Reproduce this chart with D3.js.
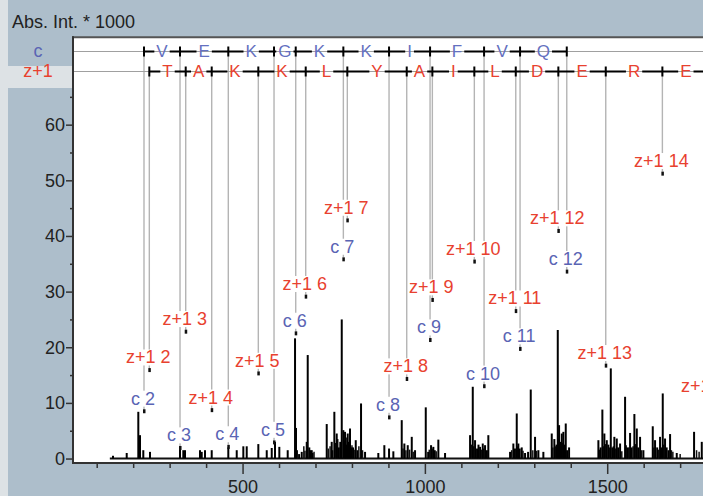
<!DOCTYPE html>
<html>
<head>
<meta charset="utf-8">
<script src="https://cdn.jsdelivr.net/npm/d3@7"></script>
<style>
body { margin: 0; background: #adbecb; overflow: hidden; }
svg { display: block; font-family: "Liberation Sans", Arial, sans-serif; }
</style>
</head>
<body>
<div id="js_chart"></div>
<script>
//////////////////////////////////////////////////////////////////////////////
// Data
//

var yTicks = [0, 10, 20, 30, 40, 50, 60];
var yMinorTicks = [5, 15, 25, 35, 45, 55, 65];
var xTicks = [500, 1000, 1500];
var xMinorTicks = [100, 200, 300, 400, 600, 700, 800, 900, 1100, 1200, 1300, 1400, 1600, 1700, 1800];

// c ions: fragment boundaries (m/z), label level (intensity), residues between them
var cFirst = 2;
var cMz    = [229.7, 328.5, 460.9, 586.3, 645.8, 776.4, 901.7, 1014.2, 1162.3, 1261.0, 1389.1];
var cLevel = [8.5, 1.9, 2.1, 2.9, 22.5, 35.8, 7.4, 21.3, 13.0, 19.7, 33.6];
var cSeq   = ["V", "E", "K", "G", "K", "K", "I", "F", "V", "Q"];

// z+1 ions
var zFirst = 2;
var zMz    = [244.3, 344.1, 415.4, 543.2, 673.2, 787.3, 950.2, 1020.5, 1135.6, 1249.2, 1366.0, 1496.0, 1651.3, 1780.0];
var zLevel = [15.9, 22.8, 8.7, 15.3, 29.1, 42.8, 14.3, 28.5, 35.4, 26.5, 40.9, 16.7, 51.2, 10.7];
var zSeq   = ["T", "A", "K", "K", "L", "Y", "A", "I", "L", "D", "E", "R", "E"];

// spectrum peaks [m/z, abs. int. * 1000]
var peaks = [
  [144.7, 0.5], [182.3, 1.0], [214.1, 8.4], [218.8, 4.2], [227.8, 1.5], [246.2, 1.2],
  [328.5, 2.1], [337.5, 1.5], [342.2, 1.5], [383.3, 1.5], [388, 1.2], [397, 1.5],
  [415.4, 1.5], [460.9, 2.0], [484, 1.5], [502.1, 2.2], [511.4, 2.2], [543.2, 2.6],
  [566.3, 1.5], [580, 1.9], [589, 3.0], [600.8, 2.1], [623.8, 1.5], [643.9, 21.6],
  [646.6, 5.5], [655, 0.8], [662.3, 1.2], [676, 3.0], [678.7, 18.6], [683, 2.0],
  [686, 1.5], [689.7, 1.5], [692, 1.0], [730.8, 6.2], [744.5, 3.0], [751.7, 8.4],
  [758.2, 4.5], [764, 2.0], [768, 3.0], [772, 25.0], [776.4, 5.1], [781, 4.8],
  [784, 2.5], [788.4, 4.5], [791, 3.0], [794.7, 5.4], [798, 2.0], [803, 2.0],
  [810.4, 3.3], [815, 1.5], [824.9, 9.9], [835.9, 1.2], [872.3, 1.0], [888.8, 2.4],
  [901.7, 1.8], [913.5, 1.3], [936.5, 6.9], [943.7, 2.7], [953, 2.4], [964, 3.9],
  [973, 1.5], [1002.4, 9.2], [1009, 1.2], [1016.9, 2.4], [1023.2, 2.1], [1027, 1.5],
  [1036.9, 3.4], [1055.3, 1.0], [1123.9, 4.2], [1131.3, 12.9], [1137.6, 3.3], [1143, 1.8],
  [1147, 2.5], [1151.3, 2.1], [1158.7, 2.7], [1165, 2.4], [1170, 1.5], [1174, 4.2],
  [1233.6, 1.2], [1242.6, 2.7], [1247, 1.8], [1251.9, 8.1], [1256.3, 2.7], [1260, 1.8],
  [1265.6, 2.0], [1274.7, 1.0], [1283, 1.2], [1290.3, 12.4], [1302.1, 3.9], [1311.2, 1.5],
  [1324.9, 1.2], [1347.9, 4.5], [1355, 3.5], [1361, 2.5], [1364.4, 23.1], [1368, 6.0],
  [1371, 3.0], [1375.4, 4.5], [1379.8, 4.8], [1383, 2.5], [1386.3, 6.3], [1390, 1.5],
  [1395.4, 2.0], [1475.8, 3.3], [1482, 2.0], [1486.7, 8.8], [1492.2, 4.5], [1498.8, 3.3],
  [1503, 2.5], [1509.8, 16.2], [1514, 2.0], [1519.6, 3.9], [1526.2, 3.6], [1530, 2.0],
  [1535.3, 2.7], [1549, 11.1], [1555, 2.0], [1562.7, 4.6], [1567, 2.0], [1574.5, 8.0],
  [1581.1, 5.4], [1585, 2.0], [1590.1, 3.9], [1599.2, 1.5], [1624.9, 5.8], [1631.2, 3.3],
  [1637, 2.0], [1644.9, 3.9], [1648, 2.0], [1652.3, 11.7], [1658.6, 3.6], [1663, 2.0],
  [1668, 1.5], [1672.4, 4.4], [1690.7, 1.0], [1738.2, 4.8], [1759.3, 3.0]
];

// low "grass" inside the peak clusters
var smallPeaks = [
  [650, 1.5], [668, 2.2], [671, 1.4], [696, 1.2], [735, 1.8], [740, 2.2], [747, 1.5],
  [755, 2.8], [761, 3.5], [770, 2.5], [779, 3.2], [786, 3.8], [800, 2.4], [806, 1.6],
  [819, 2.2], [829, 1.5], [940, 1.8], [948, 1.5], [958, 1.6], [968, 1.2], [1012, 1.6],
  [1020, 1.8], [1031, 1.3], [1128, 2.5], [1134, 2.2], [1155, 1.6], [1161, 1.8], [1238, 1.5],
  [1254, 2.2], [1269, 1.4], [1296, 1.5], [1306, 1.4], [1351, 2.0], [1358, 2.2], [1366, 3.5],
  [1377, 2.8], [1479, 1.6], [1489, 2.2], [1495, 2.6], [1506, 2.0], [1517, 2.2], [1522, 1.8],
  [1540, 1.3], [1552, 2.4], [1559, 2.0], [1571, 2.2], [1578, 2.6], [1594, 1.5], [1628, 2.0],
  [1641, 1.6], [1655, 2.5], [1676, 1.5], [1680, 1.2], [1700, 0.8], [1745, 1.5], [1752, 1.2]
];
var spectrumRange = [136, 1919];

//////////////////////////////////////////////////////////////////////////////
// Drawing
//

var W = 703, H = 496;
var plotLeft = 73, plotTop = 37.3, plotBottom = 463;
var cRowY = 51.5, zRowY = 71.5;
var blue = "#5a64b4", red = "#e8412f";

var x = d3.scaleLinear().domain([35, 1919]).range([plotLeft, 760]);
var y = d3.scaleLinear().domain([-0.8, 75.7]).range([plotBottom, plotTop]);

var svg = d3.select("#js_chart").append("svg")
  .attr("width", W)
  .attr("height", H);

// backgrounds
svg.append("rect").attr("x", 0).attr("y", 0).attr("width", W).attr("height", H).attr("fill", "#adbecb");
svg.append("rect").attr("x", 0).attr("y", 0).attr("width", 8).attr("height", H).attr("fill", "#dde2e5");
svg.append("rect").attr("x", 0).attr("y", 66).attr("width", plotLeft).attr("height", 22).attr("fill", "#dde2e5");
svg.append("rect").attr("x", plotLeft).attr("y", plotTop).attr("width", W - plotLeft)
  .attr("height", plotBottom - plotTop).attr("fill", "#fff");
svg.append("line").attr("x1", plotLeft - 1).attr("x2", W).attr("y1", plotTop).attr("y2", plotTop)
  .attr("stroke", "#555").attr("stroke-width", 2);

// gray guide lines from the sequence rows down to the labelled peaks
function guides(mzs, levels, rowY) {
  svg.append("g").selectAll("line").data(mzs).enter().append("line")
    .attr("x1", function (d) { return x(d); })
    .attr("x2", function (d) { return x(d); })
    .attr("y1", rowY)
    .attr("y2", function (d, i) { return y(levels[i]) - 2; })
    .attr("stroke", "#b4b4b4")
    .attr("stroke-width", 1.4);
}
guides(cMz, cLevel, cRowY);
guides(zMz, zLevel, zRowY);

// row base lines
[cRowY, zRowY].forEach(function (ry) {
  svg.append("line").attr("x1", plotLeft).attr("x2", W).attr("y1", ry).attr("y2", ry)
    .attr("stroke", "#a0a0a0").attr("stroke-width", 1);
});

// spectrum
svg.append("line")
  .attr("x1", x(spectrumRange[0])).attr("x2", x(spectrumRange[1]))
  .attr("y1", y(0)).attr("y2", y(0))
  .attr("stroke", "#111").attr("stroke-width", 2);

svg.append("g").selectAll("line").data(smallPeaks).enter().append("line")
  .attr("x1", function (d) { return x(d[0]); })
  .attr("x2", function (d) { return x(d[0]); })
  .attr("y1", y(0))
  .attr("y2", function (d) { return y(d[1]); })
  .attr("stroke", "#111")
  .attr("stroke-width", 1.5);

svg.append("g").selectAll("line").data(peaks).enter().append("line")
  .attr("x1", function (d) { return x(d[0]); })
  .attr("x2", function (d) { return x(d[0]); })
  .attr("y1", y(0))
  .attr("y2", function (d) { return y(d[1]); })
  .attr("stroke", "#000")
  .attr("stroke-width", 2);

// peak markers and labels
function labels(mzs, levels, prefix, first, color) {
  var g = svg.append("g");
  mzs.forEach(function (m, i) {
    var px = x(m), py = y(levels[i]);
    g.append("rect").attr("x", px - 1).attr("y", py - 2).attr("width", 2.5).attr("height", 4).attr("fill", "#111");
    var t = g.append("text")
      .attr("x", px - 1)
      .attr("y", py - 6.6)
      .attr("text-anchor", "middle")
      .attr("font-size", 18)
      .attr("fill", color)
      .text(prefix + " " + (first + i));
    var b = t.node().getBBox();
    g.insert("rect", function () { return t.node(); })
      .attr("x", b.x - 1).attr("y", b.y + 2)
      .attr("width", b.width + 2).attr("height", b.height - 4)
      .attr("fill", "#fff");
  });
}
labels(cMz, cLevel, "c", cFirst, blue);
labels(zMz, zLevel, "z+1", zFirst, red);

// sequence rows
function seqRow(mzs, seq, rowY, color) {
  var g = svg.append("g");
  seq.forEach(function (aa, i) {
    var xa = x(mzs[i]), xb = x(mzs[i + 1]), mid = (xa + xb) / 2;
    var t = g.append("text")
      .attr("x", mid)
      .attr("y", rowY + 5.2)
      .attr("text-anchor", "middle")
      .attr("font-size", 17)
      .attr("fill", color)
      .text(aa);
    var w = t.node().getComputedTextLength();
    var l = mid - w / 2 - 2, r = mid + w / 2 + 2;
    if (l > xa) g.append("line").attr("x1", xa).attr("x2", l).attr("y1", rowY).attr("y2", rowY)
      .attr("stroke", "#000").attr("stroke-width", 2);
    if (xb > r) g.append("line").attr("x1", r).attr("x2", xb).attr("y1", rowY).attr("y2", rowY)
      .attr("stroke", "#000").attr("stroke-width", 2);
  });
  g.selectAll(".tick").data(mzs).enter().append("line")
    .attr("x1", function (d) { return x(d); })
    .attr("x2", function (d) { return x(d); })
    .attr("y1", rowY - 5)
    .attr("y2", rowY + 5)
    .attr("stroke", "#000")
    .attr("stroke-width", 2);
}
seqRow(cMz, cSeq, cRowY, "#6470c0");
seqRow(zMz, zSeq, zRowY, red);

// axes
var yAxis = svg.append("g")
  .attr("transform", "translate(" + plotLeft + ",0)")
  .call(d3.axisLeft(y).tickValues(yTicks).tickSize(7).tickPadding(1));
var yMinor = svg.append("g")
  .attr("transform", "translate(" + plotLeft + ",0)")
  .call(d3.axisLeft(y).tickValues(yMinorTicks).tickSize(3).tickFormat(""));

var xAxis = svg.append("g")
  .attr("transform", "translate(0," + plotBottom + ")")
  .call(d3.axisBottom(x).tickValues(xTicks).tickSize(11).tickPadding(6).tickFormat(d3.format("d")));
var xMinor = svg.append("g")
  .attr("transform", "translate(0," + plotBottom + ")")
  .call(d3.axisBottom(x).tickValues(xMinorTicks).tickSize(5).tickFormat(""));

[yAxis, yMinor, xAxis, xMinor].forEach(function (a) {
  a.select(".domain").remove();
  a.selectAll("line").attr("stroke", "#333").attr("stroke-width", 1.5);
  a.selectAll("text").attr("font-size", 18).attr("fill", "#222")
    .attr("font-family", "'Liberation Sans', Arial, sans-serif");
});

svg.append("line").attr("x1", plotLeft).attr("x2", plotLeft).attr("y1", plotTop - 1).attr("y2", plotBottom + 1)
  .attr("stroke", "#333").attr("stroke-width", 2);
svg.append("line").attr("x1", plotLeft - 1).attr("x2", W).attr("y1", plotBottom).attr("y2", plotBottom)
  .attr("stroke", "#333").attr("stroke-width", 2);

// titles
svg.append("text").attr("x", 12).attr("y", 28).attr("font-size", 18).attr("fill", "#222")
  .text("Abs. Int. * 1000");
svg.append("text").attr("x", 38).attr("y", 56.5).attr("text-anchor", "middle")
  .attr("font-size", 18).attr("fill", blue).text("c");
svg.append("text").attr("x", 38).attr("y", 76.7).attr("text-anchor", "middle")
  .attr("font-size", 18).attr("fill", red).text("z+1");
</script>
</body>
</html>
